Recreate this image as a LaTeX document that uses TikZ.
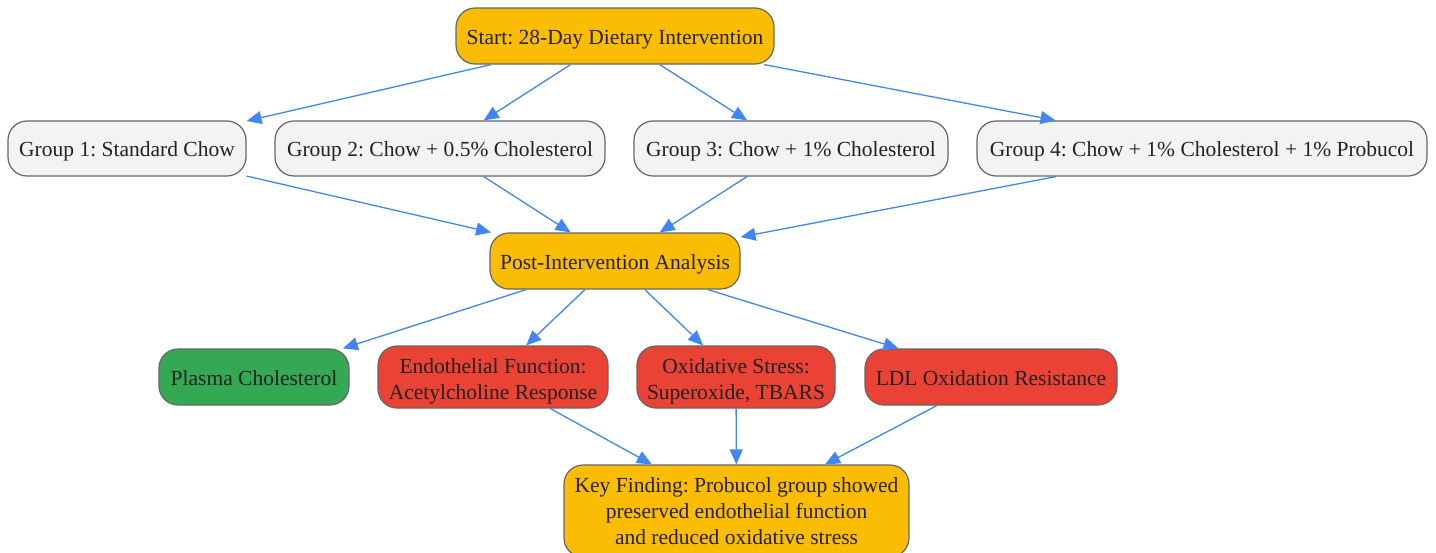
\documentclass[tikz,border=0pt]{standalone}
\usepackage{fontspec}
\setmainfont{Liberation Serif}
\usetikzlibrary{arrows.meta}
\definecolor{gold}{HTML}{FBBC04}
\definecolor{greyfill}{HTML}{F1F3F4}
\definecolor{greenfill}{HTML}{34A853}
\definecolor{redfill}{HTML}{EA4335}
\definecolor{bordergrey}{HTML}{666666}
\definecolor{arrowblue}{HTML}{4285F4}
\definecolor{txt}{HTML}{222222}
\frenchspacing
\begin{document}
\begin{tikzpicture}[x=1pt,y=-1pt,
  box/.style={draw=bordergrey, line width=1.2pt, rounded corners=19pt, align=center,
    text=txt, font=\frenchspacing\fontsize{21.5}{26}\selectfont, inner sep=0pt},
  oneline/.style={text height=18pt, text depth=2pt},
  twoline/.style={text height=46pt, text depth=2pt},
  goldbox/.style={box, fill=gold},
  greybox/.style={box, fill=greyfill},
  greenbox/.style={box, fill=greenfill},
  redbox/.style={box, fill=redfill},
  conn/.style={draw=arrowblue, line width=1.3pt, -{Triangle[length=15pt,width=13pt]}}]
\useasboundingbox (0,0) rectangle (1436,552);
\node[goldbox, oneline, minimum width=318pt, minimum height=56pt] (start) at (615,36) {Start: 28-Day Dietary Intervention};
\node[greybox, oneline, minimum width=238pt, minimum height=55pt] (g1) at (127,148.5) {Group 1: Standard Chow};
\node[greybox, oneline, minimum width=330pt, minimum height=55pt] (g2) at (440,148.5) {Group 2: Chow + 0.5\% Cholesterol};
\node[greybox, oneline, minimum width=314pt, minimum height=55pt] (g3) at (791,148.5) {Group 3: Chow + 1\% Cholesterol};
\node[greybox, oneline, minimum width=450pt, minimum height=55pt] (g4) at (1202,148.5) {Group 4: Chow + 1\% Cholesterol + 1\% Probucol};
\node[goldbox, oneline, minimum width=250pt, minimum height=56pt] (post) at (615,261) {Post-Intervention Analysis};
\node[greenbox, oneline, minimum width=190pt, minimum height=56pt] (plasma) at (254,377) {Plasma Cholesterol};
\node[redbox, twoline, minimum width=230pt, minimum height=62pt] (endo) at (493,377) {Endothelial Function:\\Acetylcholine Response};
\node[redbox, twoline, minimum width=198pt, minimum height=62pt] (ox) at (736,377) {Oxidative Stress:\\Superoxide, TBARS};
\node[redbox, oneline, minimum width=252pt, minimum height=56pt] (ldl) at (991,377) {LDL Oxidation Resistance};
\node[goldbox, minimum width=345pt, minimum height=92pt] (key) at (736.5,511) {Key Finding: Probucol group showed\\preserved endothelial function\\and reduced oxidative stress};
\foreach \g in {g1,g2,g3,g4}{
  \draw[conn] (start) -- (\g);
  \draw[conn] (\g) -- (post);
}
\foreach \r in {plasma,endo,ox,ldl}{
  \draw[conn] (post) -- (\r);
}
\foreach \r in {endo,ox,ldl}{
  \draw[conn] (\r) -- (key);
}
\end{tikzpicture}
\end{document}
